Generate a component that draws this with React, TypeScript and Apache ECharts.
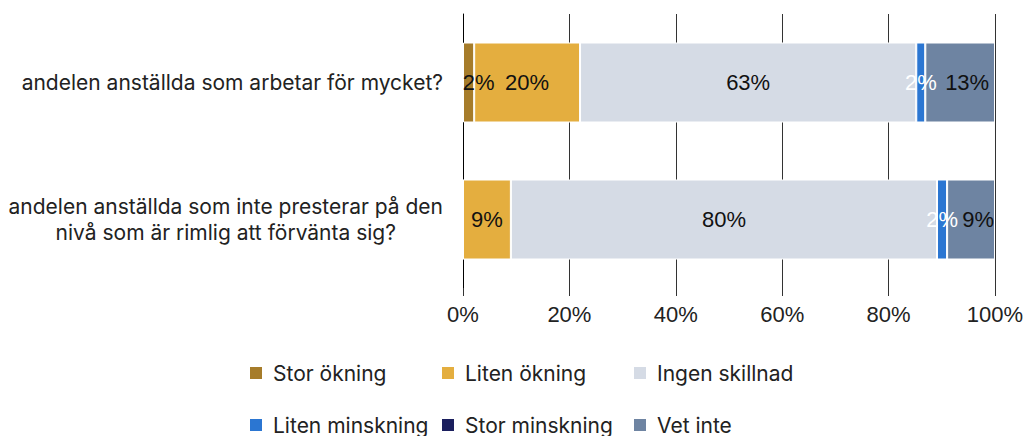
import React, { useEffect, useRef } from "react";
import * as echarts from "echarts";

const categories = [
  "andelen anställda som arbetar för mycket?",
  "andelen anställda som inte presterar på den\nnivå som är rimlig att förvänta sig?",
];
const seriesNames = [
  "Stor ökning",
  "Liten ökning",
  "Ingen skillnad",
  "Liten minskning",
  "Stor minskning",
  "Vet inte",
];
const storOkning = [2.1, 0];
const litenOkning = [19.9, 9.0];
const ingenSkillnad = [63.2, 80.1];
const litenMinskning = [1.7, 1.9];
const storMinskning = [0, 0];
const vetInte = [13.1, 9.0];
const seriesValues = [storOkning, litenOkning, ingenSkillnad, litenMinskning, storMinskning, vetInte];
const colors = ["#A67C2A", "#E4AE3F", "#D5DBE5", "#2B76D2", "#1B1F5E", "#6E84A2"];
const labelColors = ["#111", "#111", "#111", "#fff", "#fff", "#111"];
const xTicks = [0, 20, 40, 60, 80, 100];

const TEXT_FONT = "Inter";
const NUM_FONT = "Liberation Sans";

export default function App() {
  const ref = useRef<HTMLDivElement>(null);
  useEffect(() => {
    if (!ref.current) return;
    const chart = echarts.init(ref.current, undefined, { renderer: "svg" });
    const legendPos = [
      [248, 361], [440, 361], [632, 361],
      [248, 413], [440, 413], [632, 413],
    ];
    const labelShift = [[10, 0], [0, 0], [0, 0], [0, 0], [0, 0], [7, 0]];
    chart.setOption({
      animation: false,
      grid: { left: 463, right: 29, top: 14, bottom: 148, containLabel: false, outerBoundsMode: "none" },
      xAxis: {
        type: "value",
        min: xTicks[0],
        max: xTicks[xTicks.length - 1],
        interval: 20,
        axisLine: { show: false },
        axisTick: { show: true, length: 8, lineStyle: { color: "#333", width: 1 } },
        splitLine: { show: true, lineStyle: { color: "#333", width: 1 } },
        axisLabel: {
          formatter: "{value}%",
          fontFamily: NUM_FONT,
          fontSize: 22,
          color: "#222",
          margin: 15,
        },
      },
      yAxis: {
        type: "category",
        inverse: true,
        data: categories,
        axisLine: { show: true, lineStyle: { color: "#000", width: 1 } },
        axisTick: { show: false },
        axisLabel: {
          margin: 20,
          fontFamily: TEXT_FONT,
          fontSize: 21,
          color: "#222",
          lineHeight: 26,
          formatter: (v: string) =>
            v
              .split("\n")
              .map((l) => "{c|" + l + "}")
              .join("\n"),
          rich: {
            c: { align: "center", fontFamily: TEXT_FONT, fontSize: 21, color: "#222", lineHeight: 26 },
          },
        },
      },
      legend: seriesNames.map((n, i) => ({
        data: [n],
        left: legendPos[i][0],
        top: legendPos[i][1],
        icon: "rect",
        itemWidth: 14,
        itemHeight: 14,
        itemGap: 0,
        padding: 0,
        textStyle: {
          fontFamily: TEXT_FONT,
          fontSize: 21,
          color: "#222",
          lineHeight: 24,
          padding: [0, 0, 0, 5],
        },
        selectedMode: false,
      })),
      series: seriesNames.map((n, i) => ({
        name: n,
        type: "bar",
        stack: "total",
        barWidth: 80,
        data: seriesValues[i],
        itemStyle: { color: colors[i], borderColor: "#fff", borderWidth: 1 },
        label: {
          show: true,
          position: "inside",
          offset: labelShift[i],
          fontFamily: NUM_FONT,
          fontSize: 22,
          color: labelColors[i],
          formatter: (p: any) => (p.value > 0 ? Math.round(p.value) + "%" : ""),
        },
      })),
    });
    return () => chart.dispose();
  }, []);
  return (
    <div
      ref={ref}
      style={{ position: "fixed", left: 0, top: 0, width: 1024, height: 436, background: "#fff" }}
    />
  );
}
